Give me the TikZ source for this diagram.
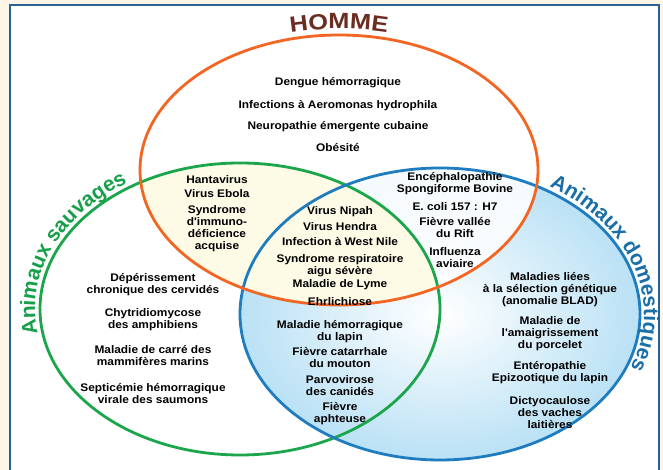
\documentclass[tikz,border=0pt]{standalone}
\usepackage{fontspec}
\setmainfont{Liberation Sans}
\newfontfamily\dzfont{Liberation Sans}[FakeStretch=1.08]
\newfontfamily\homfont{Liberation Sans}[FakeStretch=1.15]
\usetikzlibrary{decorations.text}
\definecolor{cream}{HTML}{FDF5E6}
\definecolor{frameblue}{HTML}{2C5F94}
\definecolor{orangeL}{HTML}{F26522}
\definecolor{greenL}{HTML}{1BA64B}
\definecolor{blueL}{HTML}{1F7DBF}
\definecolor{blueT}{HTML}{1A6FA8}
\definecolor{greenT}{HTML}{17A04A}
\definecolor{brownT}{HTML}{6B2D22}
\definecolor{blueshade}{HTML}{BAE1F5}
\definecolor{paleyel}{HTML}{FDFAE6}
\tikzset{
  dz/.style={font=\dzfont\fontsize{11}{12}\selectfont\bfseries, align=center, inner sep=0pt},
  ring/.style={line width=2.8pt}
}
\begin{document}
\begin{tikzpicture}[x=1pt,y=1pt]
\useasboundingbox (0,0) rectangle (663,470);
\fill[cream] (0,0) rectangle (663,470);
\fill[white] (10,0) rectangle (659,465);
\draw[frameblue, line width=2pt] (10,0) -- (10,465) -- (659,465) -- (659,0);
% fills
\shade[inner color=white, outer color=blueshade] (440,156) ellipse [x radius=200pt, y radius=146pt];
\fill[white, opacity=.85] (339,300) ellipse [x radius=199pt, y radius=135pt];
\begin{scope}
  \clip (339,300) ellipse [x radius=199pt, y radius=135pt];
  \fill[paleyel] (240,161) ellipse [x radius=200pt, y radius=146pt];
\end{scope}
% rings
\draw[ring, greenL] (240,161) ellipse [x radius=200pt, y radius=146pt];
\draw[ring, blueL] (440,156) ellipse [x radius=200pt, y radius=146pt];
\draw[ring, orangeL] (339,300) ellipse [x radius=199pt, y radius=135pt];
% titles along arcs
\path[decorate, decoration={text along path, text align=center,
  text={|\homfont\fontsize{22}{22}\selectfont\bfseries\color{brownT}|HOMME}}]
  ([shift={(339,300)}]110:212pt and 141pt) arc[start angle=110, end angle=70, x radius=212pt, y radius=141pt];
\path[decorate, decoration={text along path, text align=center,
  text={|\fontsize{21}{21}\selectfont\bfseries\color{greenT}|Animaux sauvages}}]
  ([shift={(240,161)}]206:205pt and 151pt) arc[start angle=206, end angle=110, x radius=205pt, y radius=151pt];
\path[decorate, decoration={text along path, text align=center,
  text={|\fontsize{21}{21}\selectfont\bfseries\color{blueT}|Animaux domestiques}}]
  ([shift={(440,156)}]72:204pt and 151pt) arc[start angle=72, end angle=-38, x radius=204pt, y radius=151pt];
% Homme
\node[dz] (h1) at (338,387) {Dengue hémorragique};
\node[dz] (h2) at (338,364) {Infections à Aeromonas hydrophila};
\node[dz] (h3) at (338,343) {Neuropathie émergente cubaine};
\node[dz] (h4) at (338,322) {Obésité};
% Homme + sauvages
\node[dz] (hs1) at (217,290) {Hantavirus};
\node[dz] (hs2) at (217,276) {Virus Ebola};
\node[dz] (hs3) at (217,241.5) {Syndrome\\d'immuno-\\déficience\\acquise};
% Homme + domestiques
\node[dz] (hd1) at (455,286) {Encéphalopathie\\Spongiforme Bovine};
\node[dz] (hd2) at (455,263) {E. coli 157 : H7};
\node[dz] (hd3) at (455,242.5) {Fièvre vallée\\du Rift};
\node[dz] (hd4) at (455,212.5) {Influenza\\aviaire};
% centre
\node[dz] (c1) at (340,258) {Virus Nipah};
\node[dz] (c2) at (340,243) {Virus Hendra};
\node[dz] (c3) at (340,228) {Infection à West Nile};
\node[dz] (c4) at (340,204.5) {Syndrome respiratoire\\aigu sévère};
\node[dz] (c5) at (340,185) {Maladie de Lyme};
\node[dz] (c6) at (340,168) {Ehrlichiose};
% sauvages
\node[dz] (s1) at (153,185) {Dépérissement\\chronique des cervidés};
\node[dz] (s2) at (153,150) {Chytridiomycose\\des amphibiens};
\node[dz] (s3) at (153,114) {Maladie de carré des\\mammifères marins};
\node[dz] (s4) at (153,76.5) {Septicémie hémorragique\\virale des saumons};
% sauvages + domestiques
\node[dz] (sd1) at (340,138.5) {Maladie hémorragique\\du lapin};
\node[dz] (sd2) at (340,112) {Fièvre catarrhale\\du mouton};
\node[dz] (sd3) at (340,84) {Parvovirose\\des canidés};
\node[dz] (sd4) at (340,56) {Fièvre\\aphteuse};
% domestiques
\node[dz] (d1) at (550,180) {Maladies liées\\à la sélection génétique\\(anomalie BLAD)};
\node[dz] (d2) at (550,136.5) {Maladie de\\l'amaigrissement\\du porcelet};
\node[dz] (d3) at (550,97.5) {Entéropathie\\Epizootique du lapin};
\node[dz] (d4) at (550,57.5) {Dictyocaulose\\des vaches\\laitières};
\end{tikzpicture}
\end{document}
